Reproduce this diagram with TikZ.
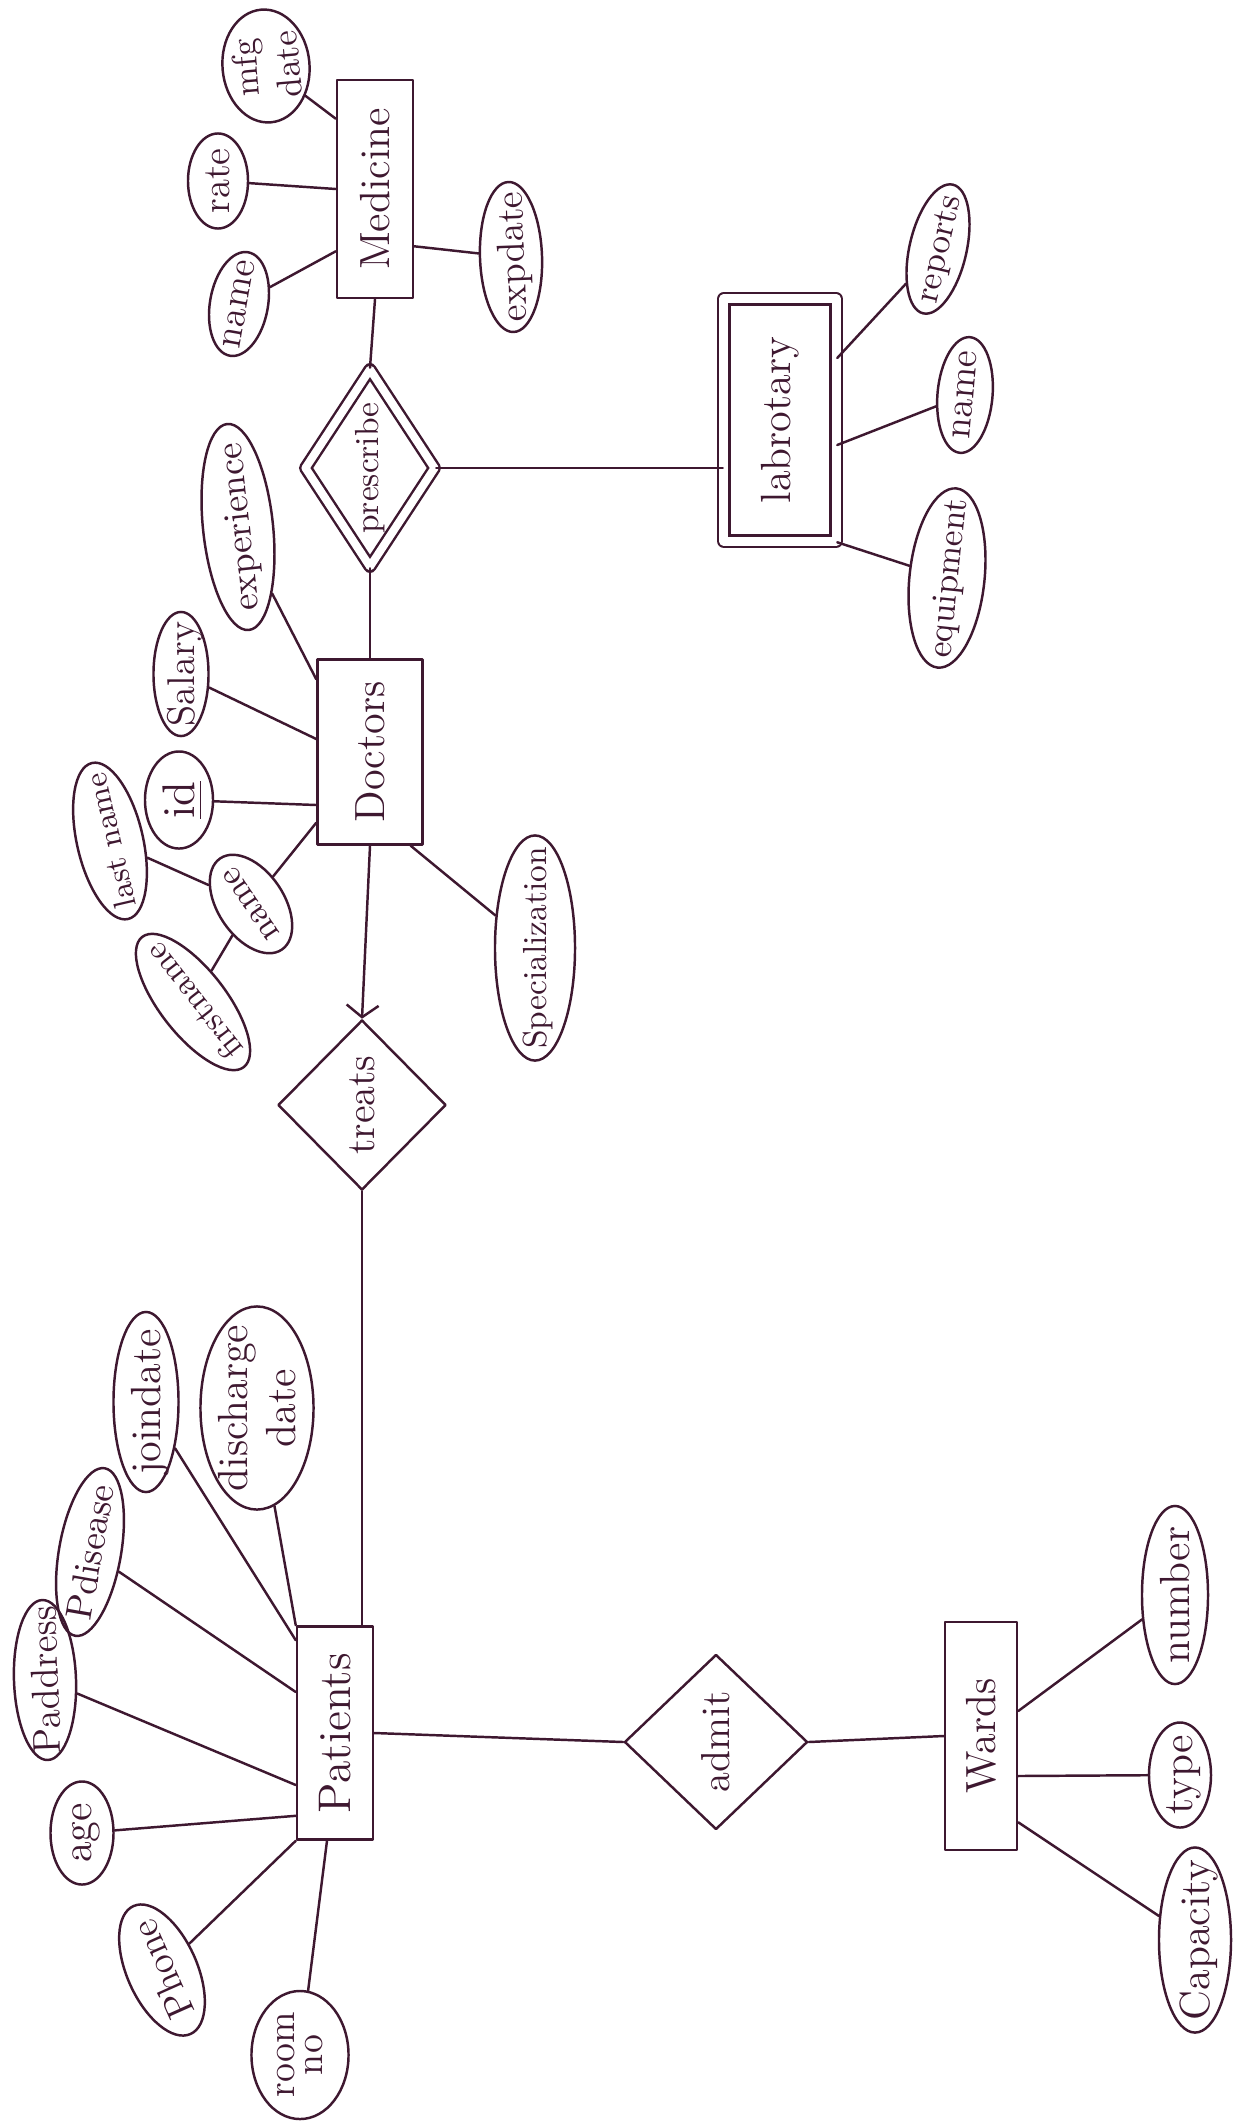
\documentclass[tikz,border=0pt]{standalone}
\usepackage{graphicx}
\usetikzlibrary{shapes.geometric,calc,arrows.meta}
\definecolor{ink}{RGB}{62,24,48}

\begin{document}
\begin{tikzpicture}[x=0.01cm,y=-0.01cm,>={Straight Barb[length=1.2mm,width=3.2mm]}, line join=round, line cap=round, line width=0.7pt, color=ink]
	\def\vt#1{\makebox[0pt]{\smash{\raisebox{-.5\height}{\rotatebox{90}{#1}}}}}
	\def\hz#1{\makebox[0pt]{\smash{\raisebox{-.5\height}{\shortstack{#1}}}}}
	\tikzset{entity/.style={draw, rectangle, inner sep=0pt, font=\fontsize{12}{14}\selectfont},
		rel/.style={draw, diamond, inner sep=0pt, font=\fontsize{11.5}{13}\selectfont},
		attr/.style={draw, ellipse, inner sep=0pt, font=\fontsize{11}{12}\selectfont}}
	\useasboundingbox (0,0) rectangle (1249,2121);
	%\draw[color=gray!50,dashed] (0,0) grid[step=1cm] (1249,2121);
	% entities
	\node[entity, minimum width=0.76cm, minimum height=2.18cm] (med) at (375,189) {\vt{Medicine}};
	\node[entity, minimum width=1.05cm, minimum height=1.85cm] (doc) at (370,752) {\vt{Doctors}};
	\node[entity, minimum width=0.76cm, minimum height=2.13cm, font=\fontsize{13}{15}\selectfont] (pat) at (335,1733) {\vt{Patients}};
	\node[entity, minimum width=0.72cm, minimum height=2.28cm] (ward) at (981,1736) {\vt{Wards}};
	\node[entity, double, double distance=0.09cm, minimum width=1.12cm, minimum height=2.42cm] (lab) at (780,420) {\vt{labrotary}};
	% relationships
	\node[rel, double, double distance=0.08cm, minimum width=1.3cm, minimum height=1.98cm, font=\fontsize{9.5}{11}\selectfont] (pres) at (370,468) {\vt{prescribe}};
	\node[rel, minimum width=1.68cm, minimum height=1.7cm] (treats) at (362,1105) {\vt{treats}};
	\node[rel, minimum width=1.83cm, minimum height=1.75cm] (admit) at (716,1742) {\vt{admit}};
	% medicine
	\node[attr, rotate=95, minimum width=1.13cm, minimum height=0.87cm, font=\fontsize{10}{11}\selectfont] (mfg) at (266,66) {\hz{mfg\\date}};
	\node[attr, rotate=90, minimum width=0.95cm, minimum height=0.6cm] (rate) at (218,181) {\hz{rate}};
	\node[attr, rotate=80, minimum width=1.05cm, minimum height=0.58cm] (mname) at (239,304) {\hz{name}};
	\node[attr, rotate=92, minimum width=1.5cm, minimum height=0.62cm] (exp) at (511,257) {\hz{expdate}};
	% laboratory
	\node[attr, rotate=77, minimum width=1.32cm, minimum height=0.57cm, font=\fontsize{10}{11}\selectfont] (rep) at (938,249) {\hz{reports}};
	\node[attr, rotate=85, minimum width=1.16cm, minimum height=0.55cm] (lname) at (965,395) {\hz{name}};
	\node[attr, rotate=84, minimum width=1.8cm, minimum height=0.75cm, font=\fontsize{10}{11}\selectfont] (equip) at (947,578) {\hz{equipment}};
	% doctors
	\node[attr, rotate=96, minimum width=2.07cm, minimum height=0.7cm, font=\fontsize{10.5}{12}\selectfont] (expr) at (238,527) {\hz{experience}};
	\node[attr, rotate=90, minimum width=1.24cm, minimum height=0.55cm] (sal) at (181,674) {\hz{Salary}};
	\node[attr, rotate=90, minimum width=0.97cm, minimum height=0.68cm, font=\fontsize{13}{14}\selectfont] (id) at (179,800) {\hz{\underline{id}}};
	\node[attr, rotate=124, minimum width=1.1cm, minimum height=0.66cm, font=\fontsize{10}{11}\selectfont] (dname) at (251,904) {\hz{name}};
	\node[attr, rotate=103, minimum width=1.6cm, minimum height=0.66cm, font=\fontsize{9}{10}\selectfont] (last) at (110,841) {\hz{last name}};
	\node[attr, rotate=128, minimum width=1.65cm, minimum height=0.66cm, font=\fontsize{9.5}{10}\selectfont] (first) at (193,1002) {\hz{firstname}};
	\node[attr, rotate=90, minimum width=2.25cm, minimum height=0.8cm, font=\fontsize{9.5}{10}\selectfont] (spec) at (535,948) {\hz{Specialization}};
	% patients
	\node[attr, rotate=92, minimum width=1.6cm, minimum height=0.62cm] (padd) at (45,1680) {\hz{Paddress}};
	\node[attr, rotate=80, minimum width=1.7cm, minimum height=0.62cm, font=\fontsize{10.5}{11}\selectfont] (pdis) at (90,1552) {\hz{Pdisease}};
	\node[attr, rotate=90, minimum width=1.8cm, minimum height=0.65cm, font=\fontsize{12}{13}\selectfont] (join) at (146,1402) {\hz{joindate}};
	\node[attr, rotate=90, minimum width=2.03cm, minimum height=1.13cm, font=\fontsize{12}{13}\selectfont] (dis) at (257,1408) {\hz{discharge\\date}};
	\node[attr, rotate=90, minimum width=1.03cm, minimum height=0.63cm, font=\fontsize{12}{13}\selectfont] (age) at (82,1833) {\hz{age}};
	\node[attr, rotate=114, minimum width=1.4cm, minimum height=0.7cm] (phone) at (162,1970) {\hz{Phone}};
	\node[attr, rotate=90, minimum width=1.28cm, minimum height=0.97cm] (room) at (300,2055) {\hz{room\\no}};
	% wards
	\node[attr, rotate=90, minimum width=1.78cm, minimum height=0.66cm, font=\fontsize{12}{13}\selectfont] (num) at (1175,1595) {\hz{number}};
	\node[attr, rotate=90, minimum width=1.05cm, minimum height=0.62cm, font=\fontsize{12}{13}\selectfont] (type) at (1180,1775) {\hz{type}};
	\node[attr, rotate=90, minimum width=1.85cm, minimum height=0.72cm, font=\fontsize{12}{13}\selectfont] (cap) at (1195,1940) {\hz{Capacity}};
	% relationship lines
	\draw (med.south) -- (pres.north);
	\draw (pres.east) -- (pres.east -| lab.west);
	\draw (pres.south) -- (doc.north);
	\draw[->] (doc.south) -- (treats.north);
	\draw (treats.south) -- (treats.south |- pat.north);
	\draw (pat.east) -- (admit.west);
	\draw (admit.east) -- (ward.west);
	% attribute lines
	\draw (mfg) -- ($(med.north west)+(0,40)$);
	\draw (rate) -- (med.west);
	\draw (mname) -- ($(med.south west)+(0,-48)$);
	\draw (exp) -- ($(med.south east)+(0,-53)$);
	\draw (rep) -- ($(lab.east)+(0,-62)$);
	\draw (lname) -- ($(lab.east)+(0,25)$);
	\draw (equip) -- (lab.south east);
	\draw (expr) -- ($(doc.north west)+(0,21)$);
	\draw (sal) -- ($(doc.west)+(0,-13)$);
	\draw (id) -- ($(doc.west)+(0,53)$);
	\draw (dname) -- ($(doc.south west)+(0,-23)$);
	\draw (dname) -- (last);
	\draw (dname) -- (first);
	\draw (spec) -- ($(doc.south east)+(-13,0)$);
	\draw (dis) -- (pat.north west);
	\draw (join) -- ($(pat.north west)+(0,15)$);
	\draw (pdis) -- ($(pat.west)+(0,-41)$);
	\draw (padd) -- ($(pat.west)+(0,52)$);
	\draw (age) -- ($(pat.south west)+(0,-25)$);
	\draw (phone) -- (pat.south west);
	\draw (room) -- ($(pat.south)+(-8,0)$);
	\draw (num) -- ($(ward.east)+(0,-25)$);
	\draw (type) -- ($(ward.east)+(0,40)$);
	\draw (cap) -- ($(ward.south east)+(0,-29)$);
\end{tikzpicture}
\end{document}
